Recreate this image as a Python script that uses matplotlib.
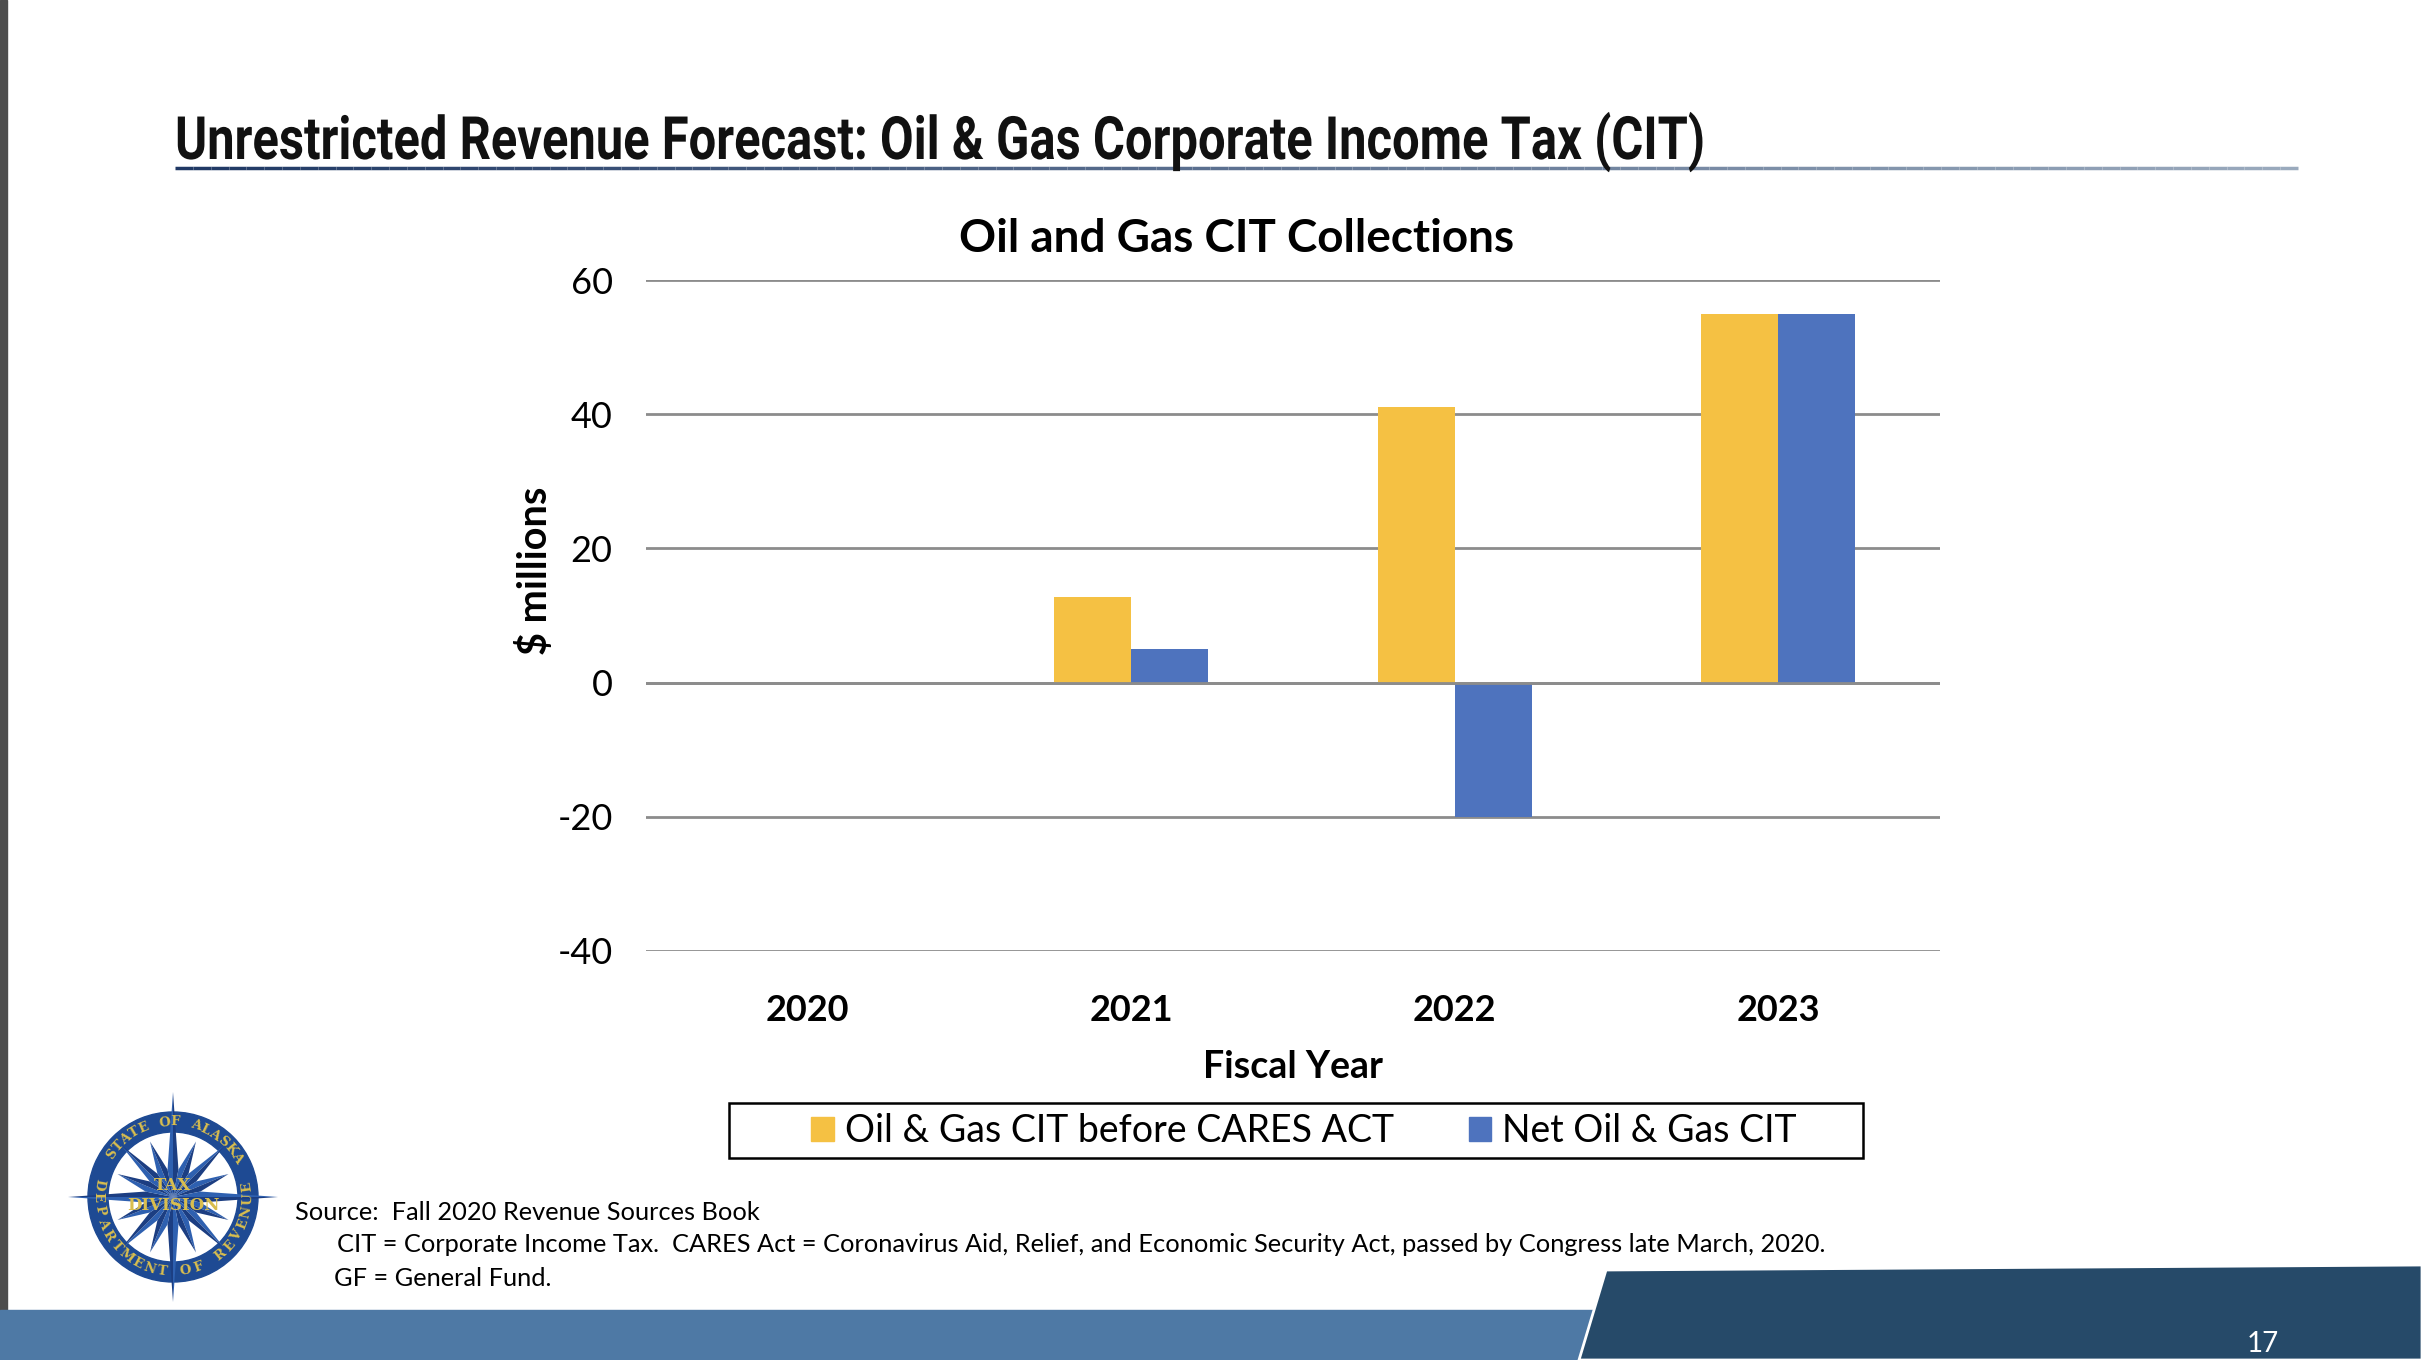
import numpy as np
import matplotlib
matplotlib.use("Agg")
import matplotlib.pyplot as plt
from matplotlib.patches import Polygon, Rectangle, Wedge, Patch
from matplotlib.collections import LineCollection
from matplotlib.patheffects import AbstractPathEffect
from matplotlib.transforms import Affine2D

# data
years = ["2020", "2021", "2022", "2023"]
before_cares = [0, 12.7, 41, 55]
net_cit = [0, 5, -20, 55]
y_ticks = [-40, -20, 0, 20, 40, 60]
series_names = ["Oil & Gas CIT before CARES ACT", "Net Oil & Gas CIT"]
footer_lines = [
    "Source:  Fall 2020 Revenue Sources Book",
    "CIT = Corporate Income Tax.  CARES Act = Coronavirus Aid, Relief, and Economic Security Act, passed by Congress late March, 2020.",
    "GF = General Fund.",
]

YELLOW = "#F5C143"
BLUE = "#4E73BE"
GRID = "#8c8c8c"
FONT = ["Lato", "DejaVu Sans"]

W, H = 2422, 1360
fig = plt.figure(figsize=(W / 100, H / 100), dpi=100)
renderer = fig.canvas.get_renderer()


class Squeeze(AbstractPathEffect):
    """squeeze text horizontally about x0 (display px) to mimic a condensed face"""
    def __init__(self, x0, sx):
        super().__init__()
        self.x0, self.sx = x0, sx

    def draw_path(self, renderer, gc, tpath, affine, rgbFace=None):
        t = affine + Affine2D().translate(-self.x0, 0).scale(self.sx, 1).translate(self.x0, 0)
        renderer.draw_path(gc, tpath, t, rgbFace)


# slide decoration layer in pixel coords
deco = fig.add_axes([0, 0, 1, 1], zorder=0)
deco.set_xlim(0, W)
deco.set_ylim(H, 0)
deco.axis("off")

deco.add_patch(Rectangle((0, 0), 7, H, color="#4d4d4d"))
deco.add_patch(Rectangle((0, 1310), 1640, 50, color="#4E79A5"))
deco.add_patch(Polygon([(1606, 1270), (2422, 1265), (2422, 1360), (1579, 1360)],
                       closed=True, facecolor="#264A69", edgecolor="white", lw=2))
deco.text(2263, 1344, "17", color="white", fontsize=20, family=FONT, ha="center", va="center")

title = deco.text(175, 159, "Unrestricted Revenue Forecast: Oil & Gas Corporate Income Tax (CIT)",
                  family=["Roboto", "DejaVu Sans"], fontweight="bold",
                  fontsize=43, ha="left", va="baseline", color="#111111")
tw = title.get_window_extent(renderer).width
title.set_path_effects([Squeeze(175, 1532 / tw)])

xs = np.linspace(175, 2298, 120)
segs = [[(xs[i], 168), (xs[i + 1], 168)] for i in range(len(xs) - 1)]
c0 = np.array(matplotlib.colors.to_rgb("#1F3864"))
c1 = np.array(matplotlib.colors.to_rgb("#9AAABD"))
cols = [c0 + (c1 - c0) * t for t in np.linspace(0, 1, len(segs))]
deco.add_collection(LineCollection(segs, colors=cols, linewidths=2.5))

deco.text(1237, 239, "Oil and Gas CIT Collections", family=FONT, fontweight="bold",
          fontsize=33, ha="center", va="center")
deco.text(535, 571, "$ millions", family=FONT, fontweight="bold", fontsize=28.5,
          rotation=90, ha="center", va="center")
deco.text(1293, 1067, "Fiscal Year", family=FONT, fontweight="bold", fontsize=27,
          ha="center", va="center")

# legend frame
deco.add_patch(Rectangle((729, 1103), 1134, 55, facecolor="white", edgecolor="black", lw=1.8))

fy = [1212, 1245, 1279]
fx = [295, 337, 334]
for x0, y0, line in zip(fx, fy, footer_lines):
    deco.text(x0, y0, line, family=FONT, fontsize=18.3, ha="left", va="center")

# chart
ax = fig.add_axes([646 / W, 1 - 951 / H, (1940 - 646) / W, (951 - 280) / H], zorder=2)
ax.set_facecolor("none")
x = np.arange(len(years))
bw = 0.238
ax.bar(x - bw / 2, before_cares, bw, color=YELLOW, zorder=3)
ax.bar(x + bw / 2, net_cit, bw, color=BLUE, zorder=3)
ax.set_xlim(-0.5, 3.5)
ax.set_ylim(-40, 60)
ax.set_yticks(y_ticks)
ax.set_xticks(x)
ax.set_xticklabels(years, family=FONT, fontweight="bold", fontsize=26)
ax.set_yticklabels([str(v) for v in y_ticks], family=FONT, fontsize=26)
ax.grid(axis="y", color=GRID, lw=2)
ax.set_axisbelow(True)
ax.axhline(0, color=GRID, lw=2, zorder=4)
for s in ax.spines.values():
    s.set_visible(False)
ax.tick_params(axis="both", length=0)
ax.tick_params(axis="y", pad=24)
ax.tick_params(axis="x", pad=31)

handles = [Patch(color=YELLOW), Patch(color=BLUE)]
leg = fig.legend(handles, series_names, loc="center", bbox_to_anchor=(1304 / W, 1 - 1131 / H),
                 ncol=2, frameon=False, prop={"family": FONT, "size": 27},
                 handlelength=0.6, handleheight=0.6, handletextpad=0.3, columnspacing=2.0)

# logo
lg = fig.add_axes([63 / W, (1360 - 1307) / H, 220 / W, 220 / H], zorder=1)
lg.set_xlim(-1.1, 1.1)
lg.set_ylim(-1.1, 1.1)
lg.set_aspect("equal")
lg.axis("off")
lg.add_patch(Wedge((0, 0), 0.85, 0, 360, width=0.2, color="#1E4A93"))
n = 16
for i in range(n):
    a = np.pi / 2 - i * 2 * np.pi / n
    r = 1.05 if i % 4 == 0 else (0.74 if i % 4 == 2 else 0.6)
    da = np.pi / n
    ri = 0.28
    tip = (r * np.cos(a), r * np.sin(a))
    left = (ri * np.cos(a + da), ri * np.sin(a + da))
    right = (ri * np.cos(a - da), ri * np.sin(a - da))
    lg.add_patch(Polygon([(0, 0), left, tip], color="#2E60B0", lw=0))
    lg.add_patch(Polygon([(0, 0), tip, right], color="#1C3E82", lw=0))


def arc_text(s, a0, a1, r, top=True):
    angs = np.linspace(a0, a1, len(s))
    for ch, a in zip(s, angs):
        rad = np.deg2rad(a)
        rot = a - 90 if top else a + 90
        lg.text(r * np.cos(rad), r * np.sin(rad), ch, rotation=rot, ha="center", va="center",
                family="DejaVu Serif", fontweight="bold", fontsize=9.5, color="#D9BE4E",
                rotation_mode="anchor")


arc_text("STATE OF ALASKA", 145, 32, 0.75, top=True)
arc_text("DEPARTMENT", 170, 262, 0.75, top=False)
arc_text("OF REVENUE", 280, 368, 0.75, top=False)
lg.text(0, 0.11, "TAX", ha="center", va="center", family="DejaVu Serif", fontweight="bold",
        fontsize=12, color="#D9BE4E")
lg.text(0, -0.09, "DIVISION", ha="center", va="center", family="DejaVu Serif", fontweight="bold",
        fontsize=12, color="#D9BE4E")

fig.savefig("out.png", dpi=100)
